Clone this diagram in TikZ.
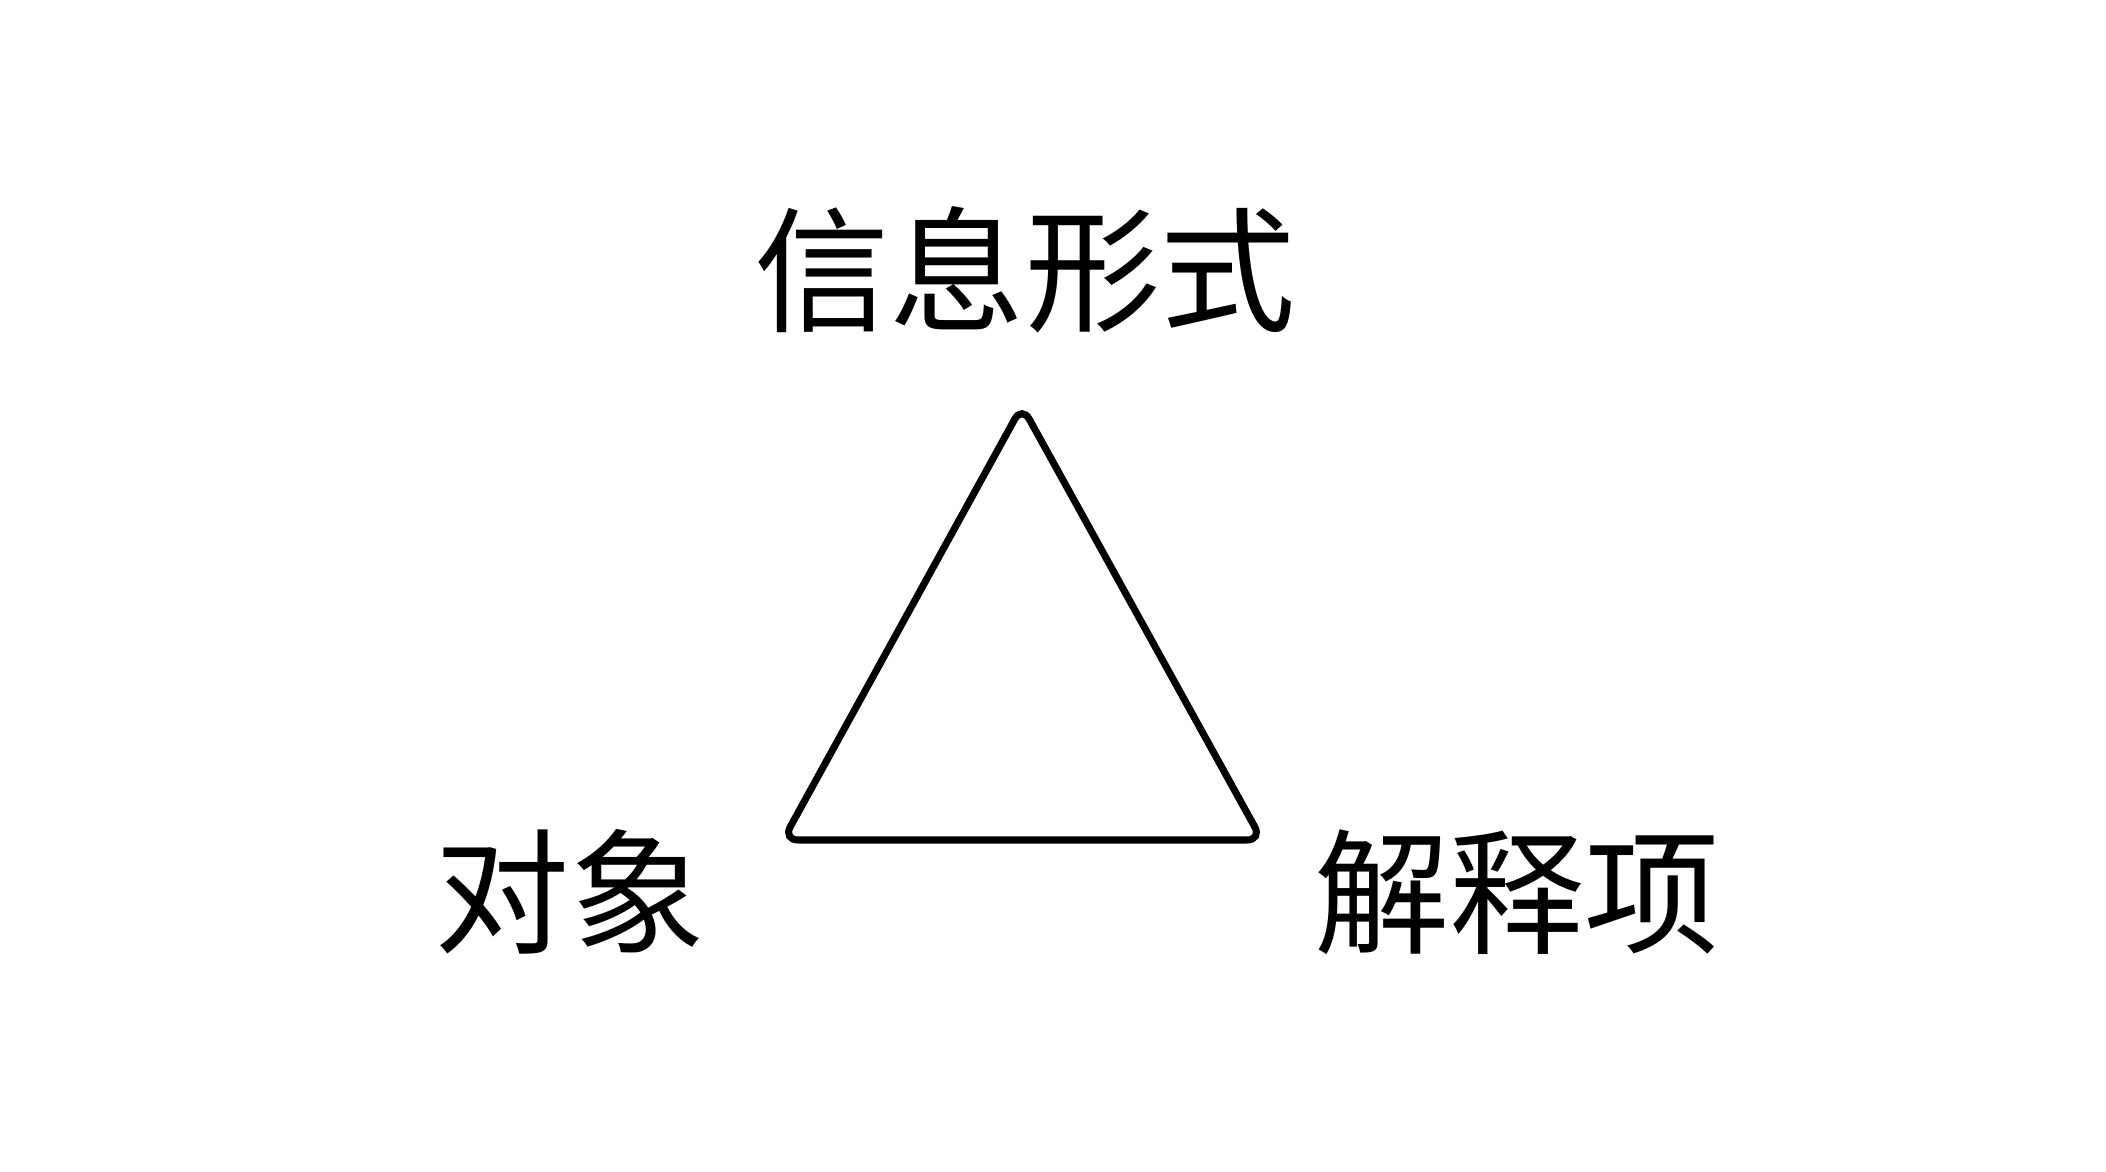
\documentclass[tikz,border=0pt]{standalone}
\usepackage{fontspec}
\newfontfamily\cjk{Noto Sans CJK SC}
\usepackage{tikz}
\usetikzlibrary{positioning}
\tikzset{term/.style={font=\cjk\fontsize{38.5}{40}\selectfont,inner sep=0pt}}

\begin{document}
\begin{tikzpicture}
\useasboundingbox (0,0) rectangle (21.06,11.72);
\coordinate (S) at (10.22,7.66);
\coordinate (O) at (7.83,3.32);
\coordinate (I) at (12.62,3.32);
\draw[line width=2pt,black,rounded corners=0.15cm] (O) -- (S) -- (I) -- cycle;
\node[term] (sign) at (10.25,9.02) {信息形式};
\node[term] (object) at (5.70,2.80) {对象};
\node[term] (interp) at (15.17,2.80) {解释项};
\end{tikzpicture}
\end{document}
